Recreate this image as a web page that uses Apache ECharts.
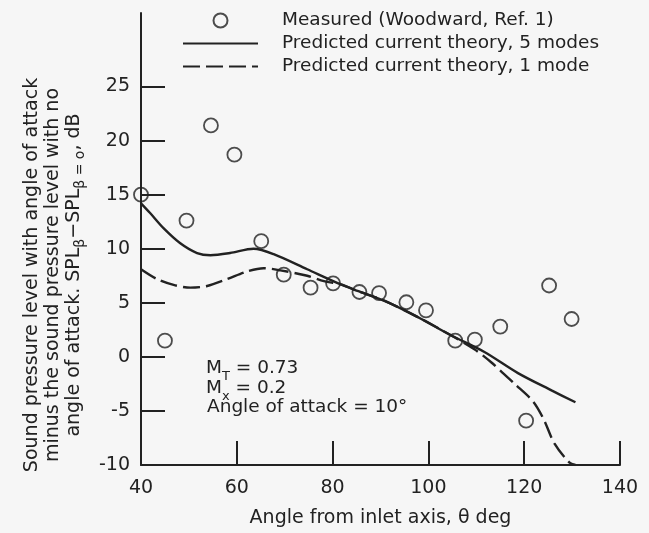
<!DOCTYPE html>
<html><head><meta charset="utf-8">
<script src="https://cdn.jsdelivr.net/npm/echarts@6/dist/echarts.min.js"></script>
<style>html,body{margin:0;padding:0;background:#f6f6f6}#c{width:649px;height:533px}</style>
</head><body><div id="c"></div>
<script>
// Measured data (Woodward, Ref. 1)
const measuredAngle = [40, 45, 49.5, 54.6, 59.5, 65.1, 69.8, 75.4, 80.1, 85.6, 89.7, 95.4, 99.5, 105.6, 109.7, 115.0, 120.4, 125.2, 129.9];
const measuredDelta = [15, 1.5, 12.6, 21.4, 18.7, 10.7, 7.6, 6.4, 6.8, 6.0, 5.9, 5.05, 4.3, 1.5, 1.6, 2.8, -5.9, 6.6, 3.5];
// Predicted current theory, 5 modes
const fiveModeAngle = [40, 41.9, 44.7, 48.2, 51.7, 54.5, 58.6, 63.5, 67.7, 74.7, 81.7, 85.2, 90.75, 97.7, 104.7, 111.7, 118.7, 125.7, 130.7];
const fiveModeDelta = [14.2, 13.3, 11.9, 10.5, 9.6, 9.4, 9.6, 10.0, 9.5, 8.1, 6.7, 6.1, 5.2, 3.7, 2.0, 0.45, -1.5, -3.1, -4.2];
// Predicted current theory, 1 mode
const oneModeAngle = [40, 43.3, 46.8, 50.3, 53.8, 58, 62.1, 65.6, 69.1, 74.7, 78.2, 81.7, 85.2, 90.75, 97.7, 104.7, 109.6, 113.1, 118, 121.8, 124.1, 126.3, 129.4, 130.7];
const oneModeDelta = [8.1, 7.2, 6.65, 6.4, 6.55, 7.2, 7.9, 8.2, 8.0, 7.5, 7.0, 6.7, 6.1, 5.2, 3.7, 2.0, 0.7, -0.5, -2.5, -4.1, -5.8, -8.0, -9.75, -10];

const xTickValues = [40, 60, 80, 100, 120, 140];
const xTickMarks = [60, 80, 100, 120, 140];
const yTickValues = [-10, -5, 0, 5, 10, 15, 20, 25];
const seriesNames = ['Measured (Woodward, Ref. 1)', 'Predicted current theory, 5 modes', 'Predicted current theory, 1 mode'];
const xAxisTitle = 'Angle from inlet axis, θ deg';

const INK = '#222';
const FONT = 'DejaVu Sans';
const zip = (a, b) => a.map((v, i) => [v, b[i]]);
const hiddenSymbol = {color: 'rgba(0,0,0,0)', borderColor: 'rgba(0,0,0,0)', borderWidth: 0, opacity: 0};

const chart = echarts.init(document.getElementById('c'), null, {renderer: 'canvas'});
chart.setOption({
  backgroundColor: '#f6f6f6',
  animation: false,
  textStyle: {fontFamily: FONT, color: INK},
  grid: {left: 141, right: 29, top: 13, bottom: 64, containLabel: false},
  legend: {
    orient: 'vertical', left: 182, top: 11, padding: 0,
    itemWidth: 75, itemHeight: 14, itemGap: 4,
    data: [
      {name: seriesNames[0]},
      {name: seriesNames[1], itemStyle: hiddenSymbol},
      {name: seriesNames[2], itemStyle: hiddenSymbol}
    ],
    formatter: n => '{t|' + n + '}',
    textStyle: {
      color: INK, fontFamily: FONT, fontSize: 18.5,
      rich: {t: {padding: [0, 0, 0, 19], fontSize: 18.5, fontFamily: FONT, color: INK, lineHeight: 20}}
    }
  },
  xAxis: {
    type: 'value', min: 40, max: 140, interval: 20,
    name: xAxisTitle, nameLocation: 'middle', nameGap: 44,
    nameTextStyle: {fontFamily: FONT, fontSize: 19, color: INK},
    axisLine: {show: true, onZero: false, lineStyle: {color: INK, width: 2}},
    axisTick: {show: true, inside: true, length: 24, customValues: xTickMarks, lineStyle: {color: INK, width: 2}},
    axisLabel: {show: true, margin: 14, customValues: xTickValues, fontFamily: FONT, fontSize: 19, color: INK},
    splitLine: {show: false}
  },
  yAxis: {
    type: 'value', min: -10, max: 31.8, interval: 5,
    axisLine: {show: true, onZero: false, lineStyle: {color: INK, width: 2}},
    axisTick: {show: true, inside: true, length: 24, customValues: yTickValues, lineStyle: {color: INK, width: 2}},
    axisLabel: {show: true, margin: 11, customValues: yTickValues, fontFamily: FONT, fontSize: 19, color: INK},
    splitLine: {show: false}
  },
  series: [
    {
      name: seriesNames[0], type: 'scatter', z: 5,
      symbol: 'circle', symbolSize: 14,
      itemStyle: {color: 'rgba(0,0,0,0)', borderColor: INK, borderWidth: 1.8},
      data: zip(measuredAngle, measuredDelta)
    },
    {
      name: seriesNames[1], type: 'line', smooth: 0.3, symbol: 'none', showSymbol: false,
      lineStyle: {color: INK, width: 2.4, type: 'solid'},
      itemStyle: {color: INK},
      data: zip(fiveModeAngle, fiveModeDelta)
    },
    {
      name: seriesNames[2], type: 'line', smooth: 0.3, symbol: 'none', showSymbol: false,
      lineStyle: {color: INK, width: 2.4, type: [17, 6]},
      itemStyle: {color: INK},
      data: zip(oneModeAngle, oneModeDelta)
    }
  ],
  graphic: [
    {
      type: 'text', x: 54.5, y: 275, rotation: Math.PI / 2, silent: true,
      style: {
        text: '{n|Sound pressure level with angle of attack}\n{n|minus the sound pressure level with no}\n{n|angle of attack. SPL}{s|β}{n|−SPL}{s|β = o}{n|, dB}',
        x: 0, y: 0,
        textAlign: 'center', align: 'center', textVerticalAlign: 'middle', verticalAlign: 'middle',
        fill: INK, fontFamily: FONT, fontSize: 19,
        rich: {
          n: {fontFamily: FONT, fontSize: 19, lineHeight: 21, verticalAlign: 'top', fill: INK, color: INK},
          s: {fontFamily: FONT, fontSize: 14, lineHeight: 14, padding: [8, 0, 0, 0], verticalAlign: 'top', fill: INK, color: INK}
        }
      }
    },
    {
      type: 'text', x: 206, y: 358.5, silent: true,
      style: {
        text: '{n|M}{s|T}{n| = 0.73}', x: 0, y: 0,
        textAlign: 'left', align: 'left', textVerticalAlign: 'top', verticalAlign: 'top',
        fill: INK, fontFamily: FONT, fontSize: 18.5,
        rich: {
          n: {fontFamily: FONT, fontSize: 18.5, lineHeight: 19, verticalAlign: 'top', fill: INK, color: INK},
          s: {fontFamily: FONT, fontSize: 13, lineHeight: 13, padding: [11.5, 0, 0, 0], verticalAlign: 'top', fill: INK, color: INK}
        }
      }
    },
    {
      type: 'text', x: 206, y: 378.5, silent: true,
      style: {
        text: '{n|M}{s|x}{n| = 0.2}', x: 0, y: 0,
        textAlign: 'left', align: 'left', textVerticalAlign: 'top', verticalAlign: 'top',
        fill: INK, fontFamily: FONT, fontSize: 18.5,
        rich: {
          n: {fontFamily: FONT, fontSize: 18.5, lineHeight: 19, verticalAlign: 'top', fill: INK, color: INK},
          s: {fontFamily: FONT, fontSize: 13, lineHeight: 13, padding: [11.5, 0, 0, 0], verticalAlign: 'top', fill: INK, color: INK}
        }
      }
    },
    {
      type: 'text', x: 207, y: 397.5, silent: true,
      style: {
        text: 'Angle of attack = 10°', x: 0, y: 0,
        textAlign: 'left', align: 'left', textVerticalAlign: 'top', verticalAlign: 'top',
        fill: INK, fontFamily: FONT, fontSize: 18.5, lineHeight: 19
      }
    }
  ]
});
</script>
</body></html>
